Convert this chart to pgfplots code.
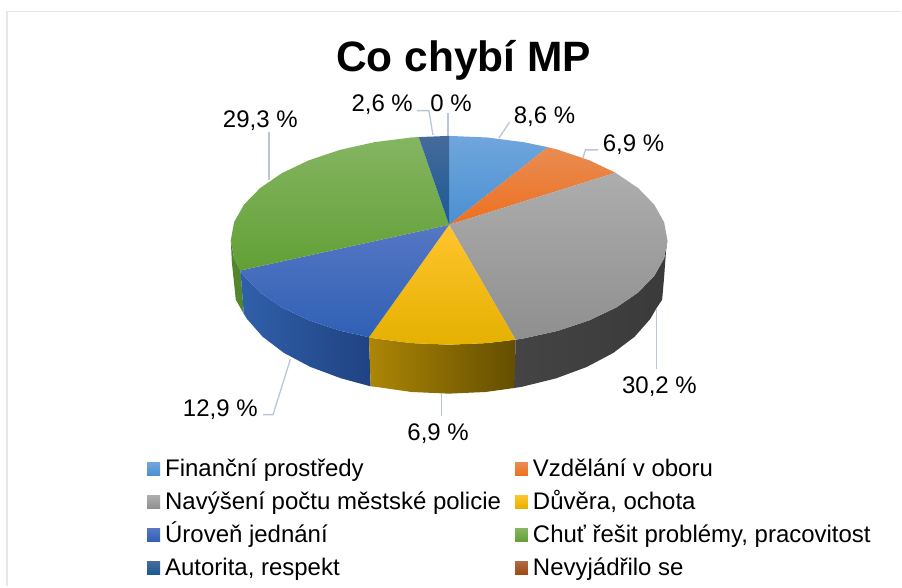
\documentclass[border=0pt]{standalone}
\usepackage{fontspec}
\setmainfont{Liberation Sans}
\usepackage{pgfplots}
\pgfplotsset{compat=1.18}
\definecolor{lead}{HTML}{B8C6D8}
\definecolor{frm}{HTML}{E4E8EC}
\tikzset{
 wedge/.style={draw=none},
 leader/.style={lead,line width=1.3pt},
 plab/.style={font=\fontsize{24}{26}\selectfont,text=black,inner sep=0pt,anchor=center},
}
\begin{document}
\begin{tikzpicture}
\begin{axis}[
 at={(0,0)},anchor=south west,
 width=902pt,height=587pt,scale only axis,
 xmin=0,xmax=902,ymin=0,ymax=587,y dir=reverse,
 axis lines=none,clip=false,no markers,
 legend cell align=left,
 legend columns=2,
 legend style={at={(axis cs:147.3,457)},anchor=north west,draw=none,fill=none,inner sep=0pt,outer sep=0pt,
   font=\fontsize{24}{26}\selectfont,
   nodes={text height=18pt,text depth=5pt},
   row sep=6pt,
   /tikz/every even column/.append style={column sep=12pt},
   /tikz/every odd column/.append style={column sep=3pt}},
 legend image code/.code={\path[draw=none,#1] (0pt,-5.5pt) rectangle (13pt,7.5pt);},
]
% page extent
\addplot[white,line width=0.01pt,forget plot] coordinates {(0,0)(902,0)(902,587)(0,587)} --cycle;
% frame
\addplot[frm,line width=1.6pt,forget plot] coordinates {(7,587)(7,11.5)(902,11.5)};
% green side
\addplot[wedge,forget plot,fill={rgb,255:red,84;green,133;blue,47}] coordinates {(240.7,270.7)(234.3,258.6)(231,240.5)(232,262)(236,300)(244,314)} --cycle;
% blue side
\addplot[wedge,forget plot,left color={rgb,255:red,48;green,96;blue,170},right color={rgb,255:red,32;green,66;blue,130}] coordinates {(369.3,337.5)(340.25,331)(309.1,320.55)(282.1,307.7)(260.3,292.75)(244.2,276.2)(240.7,270.7)(244,314)(247,319)(262.8,337)(284.3,353.3)(310.8,367.3)(341.5,378.7)(371,386.7)} --cycle;
% gold side
\addplot[wedge,forget plot,left color={rgb,255:red,172;green,134;blue,6},right color={rgb,255:red,100;green,78;blue,0}] coordinates {(369.3,337.5)(374.8,338.7)(411.6,343.4)(449.5,345)(487.4,343.4)(516,340)(515,388.3)(486.3,392.3)(449,394)(411.7,392.3)(375.5,387.1)(371,386.7)} --cycle;
% grey side
\addplot[wedge,forget plot,left color={rgb,255:red,68;green,68;blue,68},right color={rgb,255:red,58;green,58;blue,58}] coordinates {(516,340)(524.2,338.7)(558.75,331)(589.9,320.55)(616.9,307.7)(638.7,292.75)(654.8,276.2)(664.7,258.6)(668,240.5)(666.7,250)(664.5,280)(662.7,300)(656.7,309)(651,319)(635.2,337)(613.7,353.3)(587.2,367.3)(556.5,378.7)(522.5,387.1)(515,388.3)} --cycle;
% top wedges
\addplot[wedge,top color={rgb,255:red,112;green,166;blue,220},middle color={rgb,255:red,82;green,150;blue,214},bottom color={rgb,255:red,74;green,144;blue,210}] coordinates {(449.5,225)(449.5,136)(487.4,137.6)(524.2,142.3)(548.3,147.3)} --cycle;
\addlegendentry{Finanční prostředy}
\addplot[wedge,top color={rgb,255:red,233;green,140;blue,82},middle color={rgb,255:red,239;green,122;blue,42},bottom color={rgb,255:red,237;green,112;blue,32}] coordinates {(449.5,225)(548.3,147.3)(558.75,150)(589.9,160.45)(616,172.9)} --cycle;
\addlegendentry{Vzdělání v oboru}
\addplot[wedge,top color={rgb,255:red,173;green,173;blue,173},middle color={rgb,255:red,160;green,160;blue,160},bottom color={rgb,255:red,143;green,143;blue,143}] coordinates {(449.5,225)(616,172.9)(638.7,188.25)(654.8,204.8)(664.7,222.4)(668,240.5)(664.7,258.6)(654.8,276.2)(638.7,292.75)(616.9,307.7)(589.9,320.55)(558.75,331)(524.2,338.7)(516,340)} --cycle;
\addlegendentry{Navýšení počtu městské policie}
\addplot[wedge,top color={rgb,255:red,255;green,196;blue,46},middle color={rgb,255:red,249;green,189;blue,5},bottom color={rgb,255:red,229;green,177;blue,0}] coordinates {(449.5,225)(516,340)(487.4,343.4)(449.5,345)(411.6,343.4)(374.8,338.7)(369.3,337.5)} --cycle;
\addlegendentry{Důvěra, ochota}
\addplot[wedge,top color={rgb,255:red,86;green,119;blue,196},middle color={rgb,255:red,59;green,105;blue,192},bottom color={rgb,255:red,47;green,96;blue,181}] coordinates {(449.5,225)(369.3,337.5)(340.25,331)(309.1,320.55)(282.1,307.7)(260.3,292.75)(244.2,276.2)(240.7,270.7)} --cycle;
\addlegendentry{Úroveň jednání}
\addplot[wedge,top color={rgb,255:red,133;green,181;blue,98},middle color={rgb,255:red,106;green,168;blue,64},bottom color={rgb,255:red,98;green,160;blue,54}] coordinates {(449.5,225)(240.7,270.7)(234.3,258.6)(231,240.5)(234.3,222.4)(244.2,204.8)(260.3,188.25)(282.1,173.3)(309.1,160.45)(340.25,150)(374.8,142.3)(411.6,137.6)(419,137.2)} --cycle;
\addlegendentry{Chuť řešit problémy, pracovitost}
\addplot[wedge,top color={rgb,255:red,70;green,106;blue,155},middle color={rgb,255:red,32;green,93;blue,147},bottom color={rgb,255:red,26;green,90;blue,148}] coordinates {(449.5,225)(419,137.2)(449.5,136)} --cycle;
\addlegendentry{Autorita, respekt}
\addlegendimage{wedge,top color={rgb,255:red,176;green,104;blue,70},bottom color={rgb,255:red,158;green,72;blue,14}}
\addlegendentry{Nevyjádřilo se}
% leaders
\addplot[leader,forget plot] coordinates {(269.3,131.7)(269.3,180)};
\addplot[leader,forget plot] coordinates {(417.3,110.7)(429.3,110.7)(433.3,135)};
\addplot[leader,forget plot] coordinates {(448.3,113.3)(448.3,136)};
\addplot[leader,forget plot] coordinates {(510,122.3)(499.3,138.3)};
\addplot[leader,forget plot] coordinates {(598.3,150)(586,150)(583.3,158.3)};
\addplot[leader,forget plot] coordinates {(657.3,308.3)(657.3,369)};
\addplot[leader,forget plot] coordinates {(441.7,393.3)(441.7,416.7)};
\addplot[leader,forget plot] coordinates {(263.3,415)(273.3,415)(290.7,359.3)};
% labels
\node[plab] at (axis cs:260.5,121) {29,3 \%};
\node[plab] at (axis cs:382.5,105) {2,6 \%};
\node[plab] at (axis cs:451.5,103) {0 \%};
\node[plab] at (axis cs:545,117) {8,6 \%};
\node[plab] at (axis cs:634,145) {6,9 \%};
\node[plab] at (axis cs:660,387) {30,2 \%};
\node[plab] at (axis cs:438.5,434) {6,9 \%};
\node[plab] at (axis cs:220.5,410) {12,9 \%};
\node[inner sep=0pt,anchor=center,font=\bfseries\fontsize{42.5}{46}\selectfont] at (axis cs:464,60) {Co chybí MP};
\end{axis}
\end{tikzpicture}
\end{document}
